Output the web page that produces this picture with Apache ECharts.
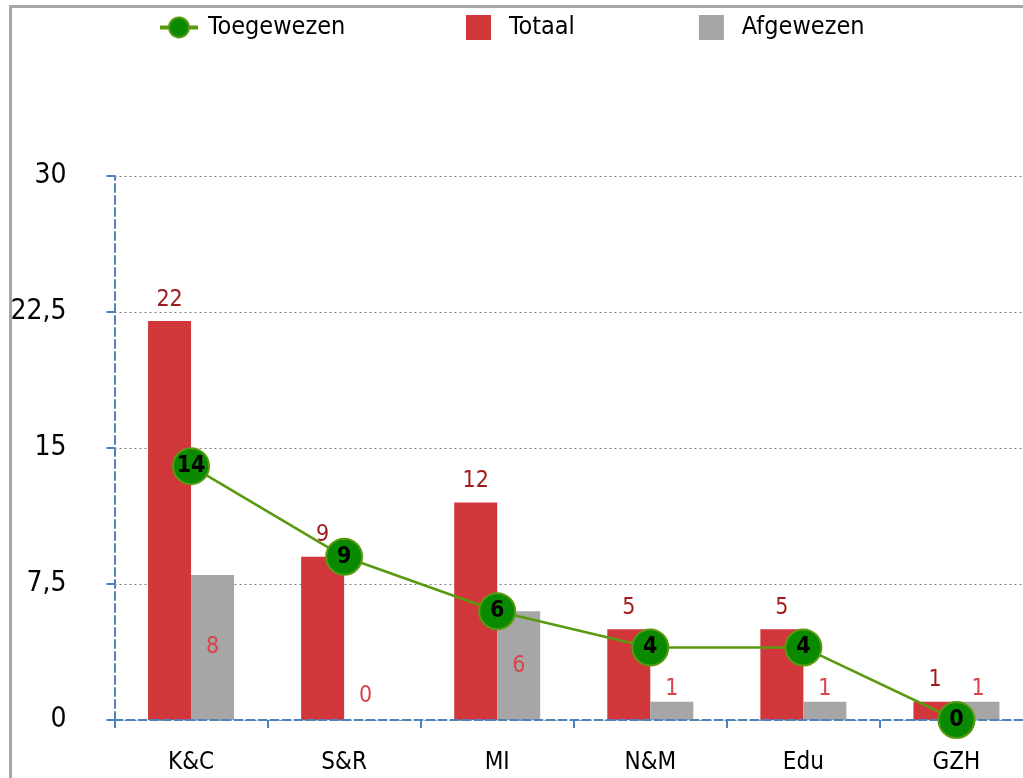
<!DOCTYPE html>
<html>
<head>
<meta charset="utf-8">
<script src="https://cdn.jsdelivr.net/npm/echarts@6/dist/echarts.min.js"></script>
<style>
html,body{margin:0;padding:0;background:#fff;overflow:hidden;width:1023px;height:778px;}
#c{width:1033px;height:778px;}
</style>
</head>
<body>
<div id="c"></div>
<script>
var categories = ['K&C', 'S&R', 'MI', 'N&M', 'Edu', 'GZH'];
var toegewezen = [14, 9, 6, 4, 4, 0];
var totaal = [22, 9, 12, 5, 5, 1];
var afgewezen = [8, 0, 6, 1, 1, 1];
var yTicks = [0, 7.5, 15, 22.5, 30];

var FONT = '"Liberation Sans Narrow", "DejaVu Sans Condensed", "Roboto Condensed", sans-serif';
var chart = echarts.init(document.getElementById('c'));

var afgData = afgewezen.map(function (v) {
  return {
    value: v,
    label: { position: v >= 3 ? 'inside' : 'top', distance: v === 0 ? 12 : 1 }
  };
});

chart.setOption({
  animation: false,
  textStyle: { fontFamily: FONT },
  graphic: [{
    type: 'polyline',
    shape: { points: [[10.5, 800], [10.5, 6.5], [1100, 6.5]] },
    style: { stroke: '#a6a6a6', lineWidth: 3, fill: null },
    silent: true
  }],
  legend: [
    {
      top: 15,
      left: 160,
      padding: 0,
      itemWidth: 36,
      itemHeight: 24,
      textStyle: { fontFamily: FONT, fontSize: 25, color: '#000', padding: [0, 0, 0, 6] },
      data: [
        { name: 'Toegewezen', icon: 'path://M0,11 L8,11 A10,10 0 1 1 8,13 L0,13 Z M28,11 L36,11 L36,13 L28,13 Z', itemStyle: { color: '#0a8a00' } }
      ]
    },
    {
      top: 15,
      left: 466,
      padding: 0,
      itemGap: 124,
      itemWidth: 25,
      itemHeight: 25,
      textStyle: { fontFamily: FONT, fontSize: 25, color: '#000', padding: [0, 0, 0, 13] },
      data: [
        { name: 'Totaal', icon: 'rect' },
        { name: 'Afgewezen', icon: 'rect' }
      ]
    }
  ],
  grid: { left: 114.5, right: 0, top: 176, bottom: 58, containLabel: false },
  xAxis: {
    type: 'category',
    data: categories,
    z: 5,
    axisLine: { show: true, lineStyle: { color: '#4f81bd', width: 2, type: [8, 4] } },
    axisTick: { show: true, alignWithLabel: false, length: 8, lineStyle: { color: '#4f81bd', width: 2 } },
    axisLabel: { margin: 31, fontSize: 24, color: '#000', fontFamily: FONT },
    splitLine: { show: false }
  },
  yAxis: {
    type: 'value',
    min: yTicks[0],
    max: yTicks[yTicks.length - 1],
    interval: yTicks[1] - yTicks[0],
    axisLine: { show: true, lineStyle: { color: '#4f81bd', width: 2, type: [8, 4] } },
    axisTick: { show: true, length: 8, lineStyle: { color: '#4f81bd', width: 2 } },
    axisLabel: {
      margin: 48, fontSize: 28, color: '#000', fontFamily: FONT,
      formatter: function (v) { return String(v).replace('.', ','); }
    },
    splitLine: { show: true, lineStyle: { color: '#7f7f7f', width: 1, type: [2, 3] } }
  },
  series: [
    {
      name: 'Toegewezen',
      type: 'line',
      data: toegewezen,
      z: 10,
      symbol: 'circle',
      symbolSize: 36,
      lineStyle: { color: '#5a9a10', width: 2.5 },
      itemStyle: { color: '#0a8a00', borderColor: '#5a9a10', borderWidth: 2 },
      label: { show: true, position: 'inside', color: '#000', fontSize: 23, fontWeight: 'bold', fontFamily: FONT }
    },
    {
      name: 'Totaal',
      type: 'bar',
      data: totaal,
      barWidth: 43,
      barGap: '0%',
      itemStyle: { color: '#d0363a' },
      label: { show: true, position: 'top', distance: 10, color: '#a01c1c', fontSize: 23, fontFamily: FONT }
    },
    {
      name: 'Afgewezen',
      type: 'bar',
      data: afgData,
      barWidth: 43,
      barGap: '0%',
      itemStyle: { color: '#a6a6a6' },
      label: { show: true, color: '#d9434a', fontSize: 23, fontFamily: FONT }
    }
  ]
});
</script>
</body>
</html>
